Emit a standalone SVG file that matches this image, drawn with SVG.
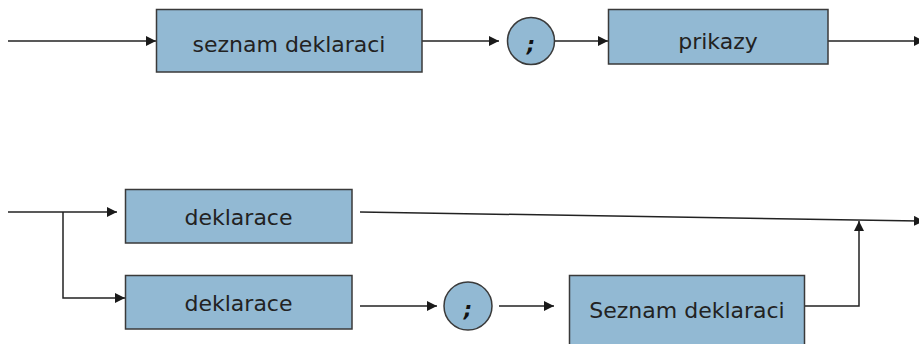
<svg xmlns="http://www.w3.org/2000/svg" width="919" height="344" viewBox="0 0 919 344">
<defs>
<marker id="ah" viewBox="0 0 10 10" refX="10" refY="5" markerWidth="10" markerHeight="10" markerUnits="userSpaceOnUse" orient="auto">
<path d="M0,0 L10,5 L0,10 z" fill="#1a1a1a"/>
</marker>
<style>
.box{fill:#92b9d3;stroke:#3a3a3a;stroke-width:1.5}
.lbl{font-family:"DejaVu Sans","Liberation Sans",sans-serif;font-size:22px;fill:#222;text-anchor:middle}
.semi{font-family:"DejaVu Sans","Liberation Sans",sans-serif;font-size:21px;font-weight:bold;font-style:italic;fill:#111;text-anchor:middle}
.ln{fill:none;stroke:#222;stroke-width:1.5}
</style>
</defs>
<rect width="919" height="344" fill="#ffffff"/>
<g id="connectors">
<line class="ln" x1="8" y1="41" x2="156" y2="41" marker-end="url(#ah)"/>
<line class="ln" x1="422" y1="41" x2="499" y2="41" marker-end="url(#ah)"/>
<line class="ln" x1="554" y1="41" x2="608" y2="41" marker-end="url(#ah)"/>
<line class="ln" x1="828" y1="41" x2="924" y2="41" marker-end="url(#ah)"/>
<line class="ln" x1="8" y1="212" x2="117" y2="212" marker-end="url(#ah)"/>
<polyline class="ln" points="63,212 63,298 125,298" marker-end="url(#ah)"/>
<line class="ln" x1="360" y1="212" x2="924" y2="221" marker-end="url(#ah)"/>
<line class="ln" x1="360" y1="306" x2="437" y2="306" marker-end="url(#ah)"/>
<line class="ln" x1="499" y1="306" x2="554" y2="306" marker-end="url(#ah)"/>
<polyline class="ln" points="804,306 859,306 859,221" marker-end="url(#ah)"/>
</g>
<g id="node-seznam-deklaraci">
<rect class="box" x="156.5" y="9.5" width="265.5" height="62.5"/>
<text class="lbl" x="289" y="52">seznam deklaraci</text>
</g>
<g id="node-semicolon-1">
<circle class="box" cx="531" cy="41" r="23.5"/>
<text class="semi" x="531" y="52">;</text>
</g>
<g id="node-prikazy">
<rect class="box" x="608.5" y="9.5" width="219.5" height="54.5"/>
<text class="lbl" x="718" y="49">prikazy</text>
</g>
<g id="node-deklarace-1">
<rect class="box" x="125.5" y="189.5" width="226.5" height="53.5"/>
<text class="lbl" x="238.5" y="225">deklarace</text>
</g>
<g id="node-deklarace-2">
<rect class="box" x="125.5" y="275.5" width="226.5" height="53.5"/>
<text class="lbl" x="238.5" y="311">deklarace</text>
</g>
<g id="node-semicolon-2">
<circle class="box" cx="468" cy="306" r="24"/>
<text class="semi" x="468" y="317">;</text>
</g>
<g id="node-seznam-deklaraci-2">
<rect class="box" x="569.5" y="275.5" width="235" height="80"/>
<text class="lbl" x="687" y="318">Seznam deklaraci</text>
</g>
</svg>
